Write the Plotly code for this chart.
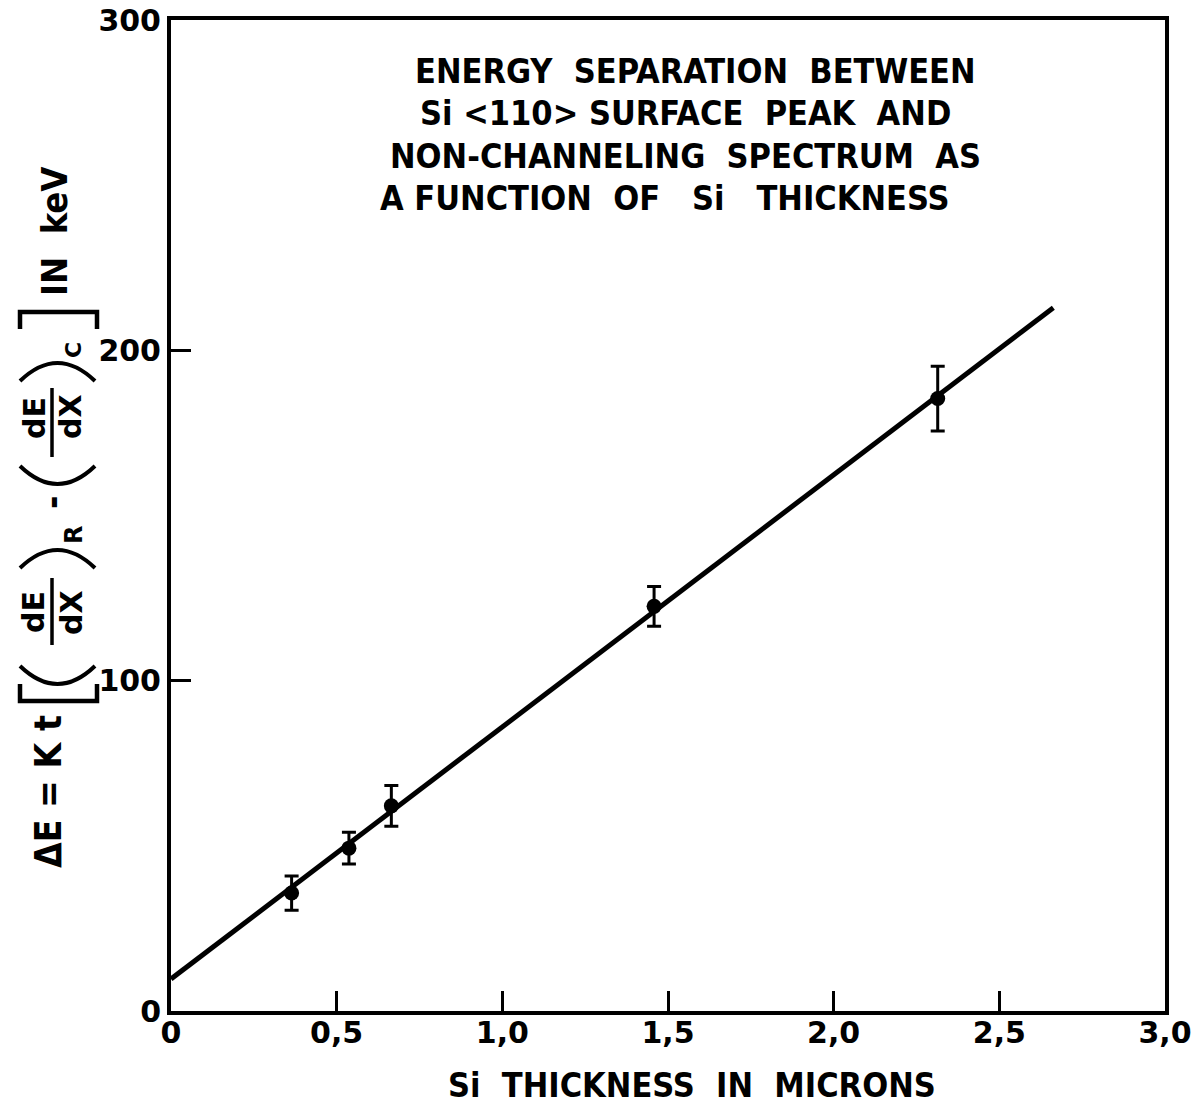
import plotly.graph_objects as go

# ---- data ----
thickness = [0.364, 0.537, 0.665, 1.458, 2.314]
delta_e = [35.7, 49.3, 62.1, 122.5, 185.4]
delta_e_err = [5.2, 4.8, 6.2, 6.0, 9.8]
fit_x = [0.0, 2.663]
fit_y = [9.7, 212.9]

x_ticks = [0, 0.5, 1.0, 1.5, 2.0, 2.5, 3.0]
x_ticktext = ["0", "0,5", "1,0", "1,5", "2,0", "2,5", "3,0"]
y_ticks = [0, 100, 200, 300]
y_ticktext = ["0", "100", "200", "300"]

title_lines = [
    "ENERGY  SEPARATION  BETWEEN",
    "Si &lt;110&gt; SURFACE  PEAK  AND",
    "NON-CHANNELING  SPECTRUM  AS",
    "A FUNCTION  OF   Si   THICKNESS",
]
x_title = "Si  THICKNESS  IN  MICRONS"

FONT = "DejaVu Sans Condensed, Liberation Sans Narrow, Roboto, sans-serif"
WIDE = "DejaVu Sans, Liberation Sans, sans-serif"

W, H = 1193, 1114
L, R, T, B = 171, 28, 20, 103
PW, PH = W - L - R, H - T - B


def px(xp):
    return (xp - L) / PW


def py(yp):
    return (H - B - yp) / PH


fig = go.Figure()
fig.add_trace(go.Scatter(
    x=fit_x, y=fit_y, mode="lines",
    line=dict(color="black", width=5), showlegend=False, hoverinfo="skip"))
fig.add_trace(go.Scatter(
    x=thickness, y=delta_e, mode="markers",
    marker=dict(color="black", size=15),
    error_y=dict(type="data", array=delta_e_err, visible=True,
                 color="black", thickness=3, width=7),
    showlegend=False))

axis_common = dict(
    showgrid=False, zeroline=False, showline=True, linecolor="black",
    linewidth=4, mirror=True, ticks="inside", ticklen=20, tickwidth=2.5,
    tickcolor="black", automargin=False,
    tickfont=dict(family=WIDE, size=30, color="black"),
)
fig.update_xaxes(range=[0, 3.0], tickvals=x_ticks,
                 ticktext=["<b>" + t + "</b>" for t in x_ticktext],
                 ticklabelstandoff=-8,
                 **axis_common)
fig.update_yaxes(range=[0, 300], tickvals=y_ticks,
                 ticktext=["<b>" + t + "</b>" for t in y_ticktext],
                 **axis_common)

ann = []
title_pos = [(695, 71), (685, 113), (685, 156), (665, 198)]
for line, (xp, yp) in zip(title_lines, title_pos):
    ann.append(dict(text="<b>" + line + "</b>", x=px(xp), y=py(yp),
                    xref="paper", yref="paper", showarrow=False,
                    xanchor="center", yanchor="middle",
                    font=dict(family=FONT, size=34, color="black")))

ann.append(dict(text="<b>" + x_title + "</b>", x=px(692), y=py(1085),
                xref="paper", yref="paper", showarrow=False,
                xanchor="center", yanchor="middle",
                font=dict(family=FONT, size=34, color="black")))

# rotated y-axis title pieces (x pixel, y pixel, text, size, font)
ytitle_parts = [
    (48, 792, "<b>ΔE = K t</b>", 37, FONT),
    (33, 612, "<b>dE</b>", 30, WIDE),
    (71, 613, "<b>dX</b>", 30, WIDE),
    (74, 535, "<b>R</b>", 24, WIDE),
    (52, 503, "<b>-</b>", 36, FONT),
    (34, 418, "<b>dE</b>", 30, WIDE),
    (71, 417, "<b>dX</b>", 30, WIDE),
    (73, 350, "<b>C</b>", 22, WIDE),
    (55, 232, "<b>IN  keV</b>", 36, FONT),
]
for xp, yp, txt, sz, fam in ytitle_parts:
    ann.append(dict(text=txt, x=px(xp), y=py(yp), xref="paper", yref="paper",
                    showarrow=False, textangle=-90, xanchor="center",
                    yanchor="middle",
                    font=dict(family=fam, size=sz, color="black")))


def P(x, y):
    return f"{px(x):.5f},{py(y):.5f}"


shapes = []
# fraction bars
for y0, y1 in ((578, 645), (388, 457)):
    shapes.append(dict(type="line", xref="paper", yref="paper",
                       x0=px(52), x1=px(52), y0=py(y0), y1=py(y1),
                       line=dict(color="black", width=3.5)))
# square brackets (rotated)
shapes.append(dict(type="path", xref="paper", yref="paper",
                   path=f"M {P(20, 684)} L {P(20, 701)} L {P(97, 701)} L {P(97, 684)}",
                   line=dict(color="black", width=4.5)))
shapes.append(dict(type="path", xref="paper", yref="paper",
                   path=f"M {P(20, 329)} L {P(20, 312)} L {P(97, 312)} L {P(97, 329)}",
                   line=dict(color="black", width=4.5)))
# parentheses (rotated arcs): (x0, x1, y_end, y_mid)
for x0, x1, ye, ym in ((20, 95, 666, 684), (20, 95, 568, 550),
                       (20, 95, 466, 484), (20, 95, 381, 363)):
    xm = (x0 + x1) / 2
    cy = (4 * ym - 2 * ye) / 2
    shapes.append(dict(type="path", xref="paper", yref="paper",
                       path=f"M {P(x0, ye)} Q {P(xm, cy)} {P(x1, ye)}",
                       line=dict(color="black", width=4)))

fig.update_layout(
    width=W, height=H,
    margin=dict(l=L, r=R, t=T, b=B),
    paper_bgcolor="white", plot_bgcolor="white",
    annotations=ann, shapes=shapes,
)

fig.write_html("out.html")
